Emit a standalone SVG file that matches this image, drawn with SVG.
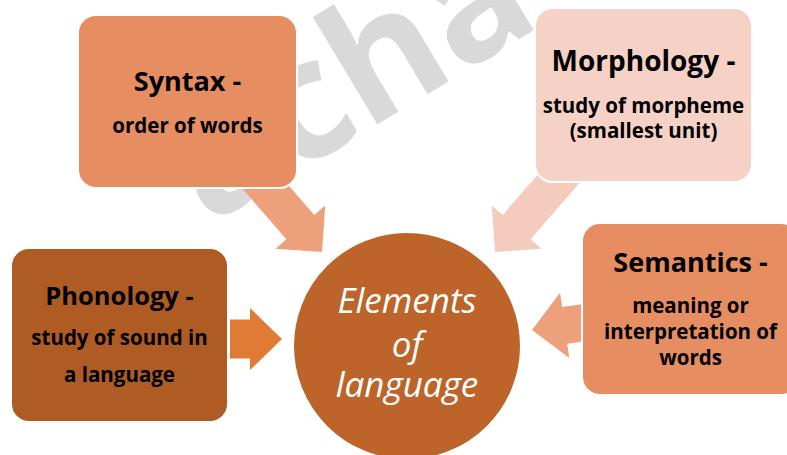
<svg xmlns="http://www.w3.org/2000/svg" width="787" height="455" viewBox="0 0 787 455">
<style>
.t{font-family:"Open Sans","Noto Sans","Liberation Sans",sans-serif;font-weight:bold;fill:#000;text-anchor:middle}
.h{font-size:27px}
.s{font-size:20.5px}
.c{font-family:"Open Sans","Noto Sans","Liberation Sans",sans-serif;font-style:italic;font-size:35px;fill:#fff;text-anchor:middle}
.box{stroke:#fff;stroke-width:2}
.wm{font-family:"Open Sans","Noto Sans",sans-serif;font-weight:bold;font-size:165px;fill:#d9d9d9}
</style>
<defs>
<polygon id="arr" points="0,0 -33,-33 -33,-18.5 -130,-18.5 -130,18.5 -33,18.5 -33,33"/>
</defs>
<rect width="787" height="455" fill="#fff"/>
<text class="wm" transform="translate(208,226) rotate(-31)">acha</text>
<g id="connectors">
<use href="#arr" fill="#eda07b" transform="translate(322,252) rotate(49)"/>
<use href="#arr" fill="#f5cbbd" transform="translate(495,252) rotate(131)"/>
<polygon fill="#e07b36" points="282,339 250,308 250,319.5 230,319.5 230,358.5 250,358.5 250,370"/>
<use href="#arr" fill="#eda07b" transform="translate(532,330) rotate(172)"/>
</g>
<g id="syntax">
<rect class="box" x="78" y="15" width="219" height="173" rx="18" fill="#e68d61"/>
<text class="t h" x="187.5" y="91">Syntax -</text>
<text class="t s" x="187.5" y="133">order of words</text>
</g>
<g id="morphology">
<rect class="box" x="535" y="8" width="217" height="174" rx="18" fill="#f6d1c5"/>
<text class="t h" x="643.5" y="71" style="font-size:28px">Morphology -</text>
<text class="t s" x="643.5" y="113">study of morpheme</text>
<text class="t s" x="643.5" y="138">(smallest unit)</text>
</g>
<g id="phonology">
<rect class="box" x="11" y="248" width="217" height="174" rx="18" fill="#af5b24"/>
<text class="t h" x="119.5" y="305" style="font-size:25.5px">Phonology -</text>
<text class="t s" x="119.5" y="345">study of sound in</text>
<text class="t s" x="119.5" y="382">a language</text>
</g>
<g id="semantics">
<rect class="box" x="582" y="223" width="217" height="172" rx="18" fill="#e68d61"/>
<text class="t h" x="690.5" y="272">Semantics -</text>
<text class="t s" x="690.5" y="313">meaning or</text>
<text class="t s" x="690.5" y="339">interpretation of</text>
<text class="t s" x="690.5" y="365">words</text>
</g>
<g id="center">
<circle class="box" cx="407" cy="346" r="114" fill="#bc6429"/>
<text class="c" x="407" y="313">Elements</text>
<text class="c" x="407" y="357">of</text>
<text class="c" x="407" y="397">language</text>
</g>
</svg>
